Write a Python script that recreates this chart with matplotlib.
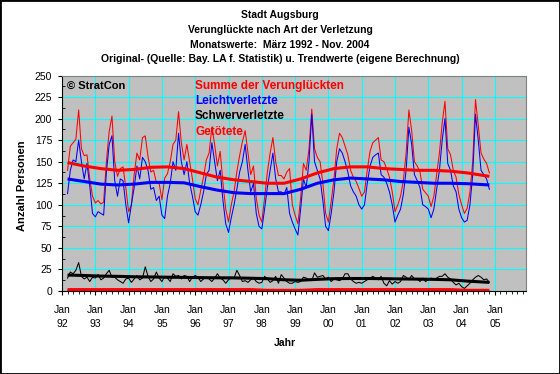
import matplotlib
matplotlib.use("Agg")
from matplotlib import pyplot as plt
from matplotlib.patches import Rectangle
import numpy as np

# Monatswerte Maerz 1992 (Monat 2) bis Nov. 2004 (Monat 154), Monat 0 = Jan 1992
start_monat = 2

summe = [
    140, 168, 172, 176, 210, 165, 157, 158, 130, 110,            # 1992
    102, 105, 101, 103, 150, 185, 203, 150, 133, 142, 144, 120,  # 1993
    92, 100, 135, 160, 152, 178, 180, 156, 138, 140, 126, 125,   # 1994
    106, 131, 136, 150, 170, 175, 208, 172, 152, 170, 150, 130,  # 1995
    107, 100, 117, 132, 152, 160, 190, 170, 145, 162, 125, 95,   # 1996
    80, 100, 115, 138, 157, 173, 186, 160, 135, 145, 108, 88,    # 1997
    80, 108, 138, 160, 178, 150, 134, 134, 130, 138, 142, 100,   # 1998
    88, 78, 108, 148, 140, 165, 211, 165, 155, 150, 125, 90,     # 1999
    80, 104, 130, 165, 183, 178, 168, 158, 140, 132, 127, 119,   # 2000
    110, 115, 140, 162, 172, 175, 178, 152, 150, 142, 132, 115,  # 2001
    92, 100, 110, 128, 160, 210, 186, 150, 145, 138, 118, 114,   # 2002
    110, 98, 110, 135, 160, 195, 220, 165, 158, 140, 132, 112,   # 2003
    100, 90, 96, 115, 150, 222, 192, 160, 153, 148, 137,         # 2004
]

leicht = [
    113, 140, 152, 150, 175, 150, 130, 148, 122, 90,
    86, 92, 90, 88, 138, 170, 180, 128, 110, 130, 128, 100,
    79, 100, 120, 145, 130, 155, 150, 140, 118, 120, 105, 110,
    88, 84, 110, 125, 150, 140, 183, 150, 135, 150, 125, 110,
    92, 88, 100, 115, 135, 140, 172, 150, 128, 140, 105, 78,
    68, 85, 100, 118, 138, 150, 170, 140, 115, 125, 90, 75,
    72, 95, 120, 140, 160, 130, 115, 115, 112, 120, 90, 80,
    72, 65, 95, 130, 120, 150, 205, 150, 140, 130, 105, 75,
    70, 90, 115, 150, 165, 160, 150, 138, 122, 115, 110, 100,
    95, 100, 125, 145, 155, 158, 160, 135, 132, 125, 115, 100,
    80, 88, 95, 112, 140, 190, 170, 135, 128, 120, 100, 98,
    95, 85, 95, 118, 140, 175, 200, 148, 140, 122, 115, 95,
    85, 80, 82, 100, 135, 205, 175, 140, 135, 130, 118,
]

schwer = [
    15, 22, 20, 24, 33, 17, 14, 16, 11, 16,
    15, 19, 13, 15, 20, 24, 16, 16, 13, 11, 9, 14,
    15, 10, 14, 18, 13, 15, 28, 17, 11, 14, 22, 15,
    11, 17, 15, 11, 20, 17, 18, 14, 18, 17, 11, 16,
    18, 16, 11, 14, 16, 14, 11, 15, 20, 15, 13, 9,
    13, 16, 15, 24, 18, 11, 12, 10, 13, 15, 11, 9,
    10, 17, 14, 10, 12, 17, 9, 19, 15, 11, 9, 9,
    11, 10, 11, 16, 15, 13, 12, 21, 16, 17, 18, 14,
    16, 11, 14, 13, 12, 14, 20, 20, 14, 11, 9, 10,
    9, 11, 13, 15, 17, 15, 13, 17, 9, 6, 12, 8,
    11, 9, 11, 18, 16, 13, 18, 14, 14, 11, 15, 11,
    13, 15, 13, 15, 17, 17, 20, 16, 14, 10, 7, 9,
    5, 3, 6, 9, 13, 16, 18, 16, 13, 14, 10,
]

getoetet = [
    1, 2, 0, 1, 1, 2, 1, 0, 1, 1,
    0, 1, 2, 1, 1, 0, 2, 1, 1, 0, 1, 2,
    1, 0, 1, 1, 2, 1, 0, 1, 1, 2, 0, 1,
    1, 1, 0, 2, 1, 1, 1, 0, 2, 1, 1, 0,
    1, 2, 1, 0, 1, 1, 0, 2, 1, 1, 0, 1,
    2, 1, 0, 1, 1, 0, 1, 2, 1, 0, 1, 1,
    0, 1, 1, 0, 2, 1, 0, 1, 1, 0, 1, 0,
    1, 0, 2, 1, 1, 0, 1, 1, 2, 1, 0, 1,
    1, 2, 1, 0, 1, 1, 2, 0, 1, 1, 1, 0,
    2, 1, 1, 0, 1, 2, 1, 1, 0, 1, 1, 2,
    1, 0, 1, 1, 2, 1, 1, 0, 1, 2, 1, 1,
    0, 1, 2, 1, 1, 0, 1, 1, 2, 1, 0, 1,
    1, 0, 0, 1, 0, 1, 0, 0, 1, 0, 0,
]

# Trendwerte (Stuetzstellen)
trend_monate = [2, 8, 14, 20, 26, 32, 38, 44, 50, 56, 62, 68, 74, 80, 86,
                92, 98, 104, 110, 116, 122, 128, 134, 140, 146, 154]
trend_summe = [149, 145, 142, 140, 141, 143.5, 144, 142, 137, 132, 129, 127, 125,
               125, 130, 137, 142, 144, 144, 142, 141, 140, 140, 139, 137, 133]
trend_leicht = [130, 127, 124, 123, 124, 126, 126, 125.5, 121, 117, 114, 113, 113,
                113, 118, 125, 129, 131, 130, 129, 127, 126, 125, 125, 124.5, 123]
trend_schwer = [18.5, 18, 17.3, 17, 16.5, 16.3, 16, 15.8, 15.5, 15.3, 15.2, 14.8, 14.3,
                13, 12.5, 13.5, 14.3, 14.5, 14.5, 14.3, 14, 13.8, 13.5, 13, 11.5, 10]
trend_tote = [1.6, 1.6, 1.6, 1.6, 1.6, 1.6, 1.6, 1.6, 1.6, 1.6, 1.6, 1.6, 0.8,
              0.8, 0.8, 1.6, 1.6, 1.6, 1.6, 1.6, 1.6, 1.6, 1.6, 1.6, 0.8, 0.8]

jahre = ["92", "93", "94", "95", "96", "97", "98", "99", "00", "01", "02", "03", "04", "05"]

titel = ["Stadt Augsburg",
         "Verunglückte nach Art der Verletzung",
         "Monatswerte:  März 1992 - Nov. 2004",
         "Original- (Quelle: Bay. LA f. Statistik) u. Trendwerte (eigene Berechnung)"]

plt.rcParams["font.family"] = ["Liberation Sans", "DejaVu Sans"]

fig = plt.figure(figsize=(5.6, 3.74), dpi=100)
fig.patch.set_facecolor("white")
ax = fig.add_axes([62 / 560, 1 - 291 / 374, 464 / 560, 215.5 / 374])
ax.set_facecolor("#C0C0C0")

monate = np.arange(start_monat, start_monat + len(summe))

# Originalwerte (duenn)
ax.plot(monate, schwer, color="black", lw=0.75)
ax.plot(monate, getoetet, color="red", lw=0.75)
ax.plot(monate, summe, color="red", lw=0.75)
ax.plot(monate, leicht, color="blue", lw=0.75)

# Trendwerte (dick)
ax.plot(trend_monate, trend_summe, color="red", lw=2.2, solid_capstyle="butt")
ax.plot(trend_monate, trend_leicht, color="blue", lw=2.2, solid_capstyle="butt")
ax.plot(trend_monate, trend_schwer, color="black", lw=2.2, solid_capstyle="butt")
ax.plot(trend_monate, trend_tote, color="red", lw=2.2, solid_capstyle="butt")

ax.set_xlim(0, 167.2)
ax.set_ylim(0, 250)
ax.set_xticks(np.arange(0, 12 * len(jahre), 12))
ax.set_xticklabels(["Jan\n" + j for j in jahre], linespacing=1.55)
ax.set_xticks(np.arange(0, 168, 2), minor=True)
ax.set_yticks(np.arange(0, 251, 25))
ax.set_yticks(np.arange(12.5, 250, 25), minor=True)
ax.grid(True, which="major", color="#00FFFF", lw=0.8)
ax.set_axisbelow(True)

ax.tick_params(axis="both", which="major", labelsize=7.5, length=3, width=0.8, direction="out")
ax.tick_params(axis="y", which="major", pad=4)
ax.tick_params(axis="x", which="major", pad=7)
ax.tick_params(axis="x", which="minor", length=2, width=0.6, direction="out")
ax.tick_params(axis="y", which="minor", length=2, width=0.6, direction="in")

for side in ["top", "right"]:
    ax.spines[side].set_color("#808080")
for side in ["left", "bottom"]:
    ax.spines[side].set_color("black")

# Beschriftung im Diagramm
fig.text(67 / 560, 1 - 86 / 374, "© StratCon", fontsize=8, fontweight="bold", va="center")
legende = [("Summe der Verunglückten", "red"), ("Leichtverletzte", "blue"),
           ("Schwerverletzte", "black"), ("Getötete", "red")]
for i, (txt, col) in enumerate(legende):
    fig.text(195 / 560, 1 - (86 + i * 15.2) / 374, txt, color=col, fontsize=8.5,
             fontweight="bold", va="center")

for i, t in enumerate(titel):
    fig.text(0.5, 1 - (15 + i * 14.8) / 374, t, ha="center", va="center",
             fontsize=7.5, fontweight="bold")

fig.text(22 / 560, 1 - 186 / 374, "Anzahl Personen", rotation=90, ha="center",
         va="center", fontsize=8, fontweight="bold")
fig.text(285 / 560, 1 - 343 / 374, "Jahr", ha="center", va="center",
         fontsize=7.5, fontweight="bold")

fig.patches.append(Rectangle((0, 0), 1, 1, transform=fig.transFigure, fill=False,
                             ec="black", lw=2, figure=fig))

fig.savefig("out.png", dpi=100)
